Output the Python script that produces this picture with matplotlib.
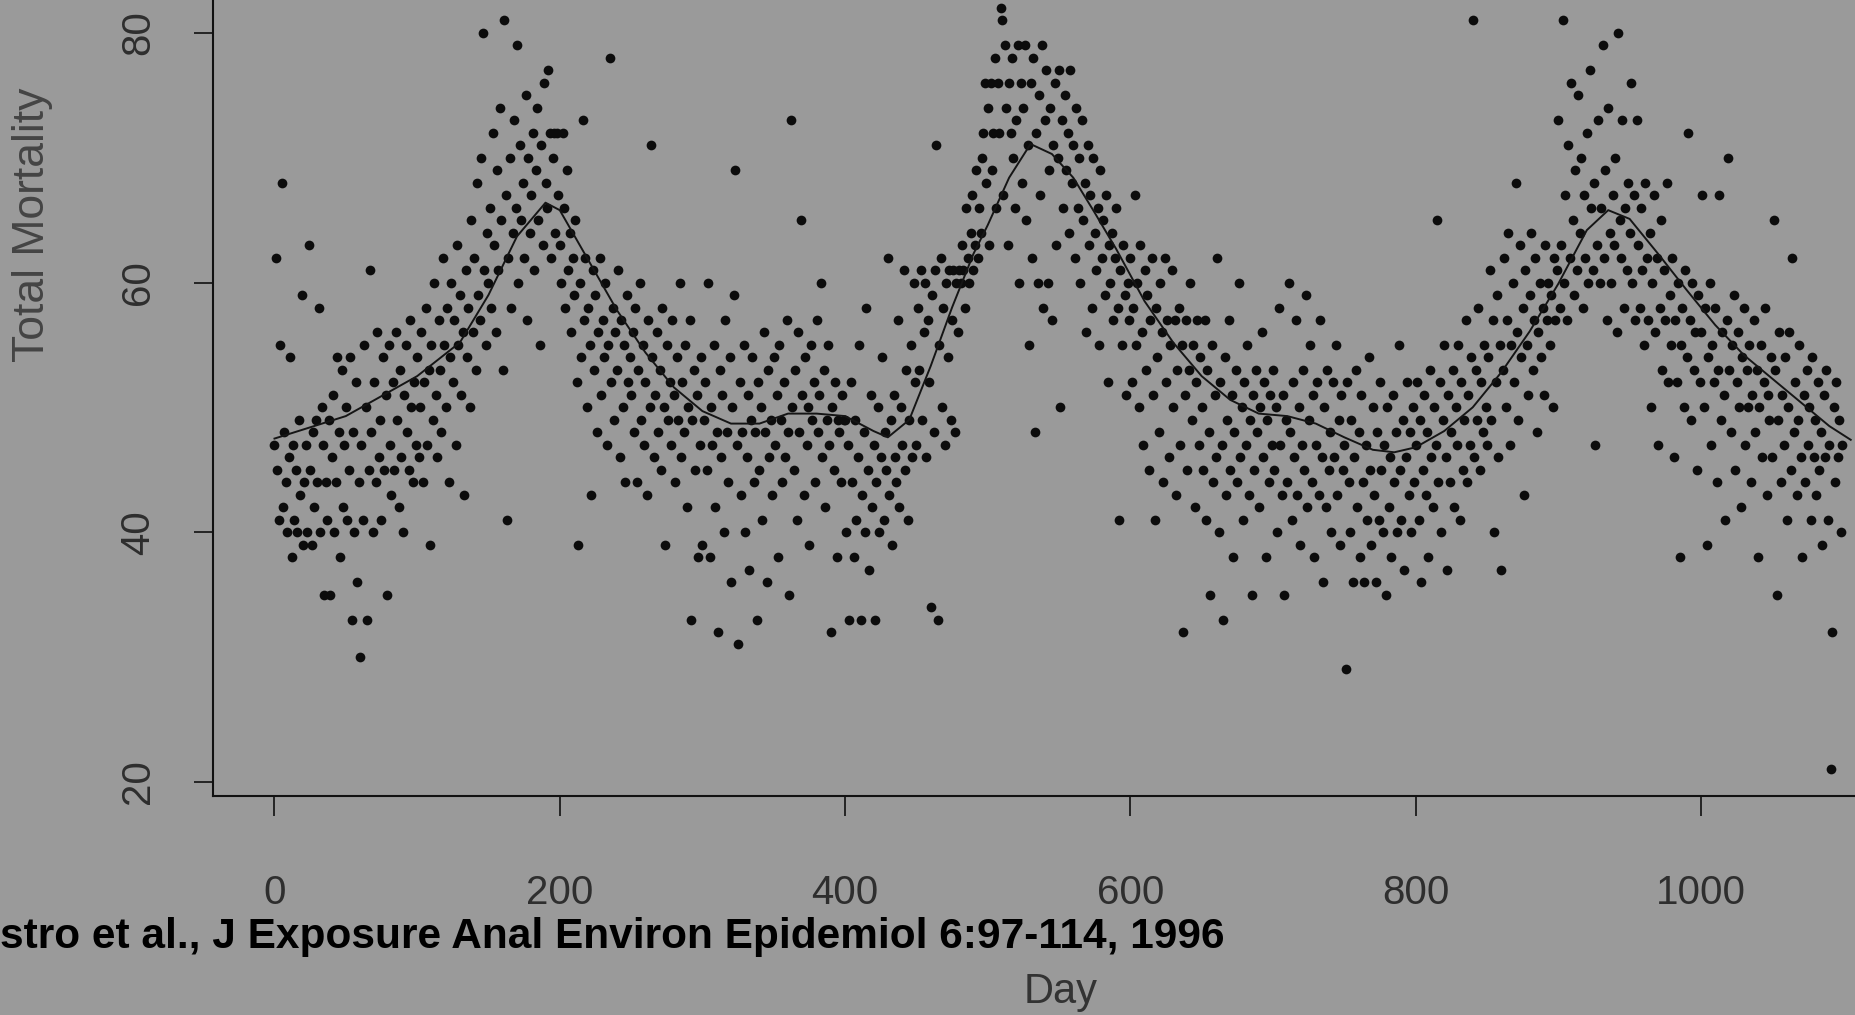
import matplotlib
matplotlib.use("Agg")
import matplotlib.pyplot as plt
import numpy as np

# daily total mortality (day 0 .. 1099), 50 days per row
mortality = [
    47, 62, 45, 41, 55, 68, 42, 48, 44, 40, 46, 54, 38, 47, 41, 45, 40, 49, 43, 59, 39, 44, 47, 40, 63, 45, 39, 48, 42, 49, 44, 58, 40, 50, 47, 35, 44, 41, 49, 35, 46, 51, 40, 44, 54, 48, 38, 53, 42, 47,
    50, 41, 45, 54, 33, 48, 40, 52, 36, 44, 30, 47, 41, 55, 50, 33, 45, 61, 48, 40, 52, 44, 56, 46, 49, 41, 54, 45, 51, 35, 55, 47, 43, 52, 45, 56, 49, 42, 53, 46, 40, 51, 55, 48, 45, 57, 50, 44, 52, 47,
    54, 46, 50, 56, 44, 52, 58, 47, 53, 39, 55, 49, 60, 51, 46, 57, 53, 48, 62, 55, 50, 58, 44, 54, 60, 52, 57, 47, 63, 55, 59, 51, 56, 43, 61, 54, 58, 50, 65, 56, 62, 53, 68, 59, 57, 70, 80, 61, 55, 64,
    60, 66, 58, 72, 63, 56, 69, 61, 74, 65, 53, 81, 67, 41, 62, 70, 58, 64, 73, 66, 79, 60, 71, 65, 68, 62, 75, 57, 70, 64, 67, 72, 61, 69, 74, 65, 55, 71, 63, 76, 68, 66, 77, 72, 62, 70, 72, 64, 72, 67,
    63, 60, 72, 66, 58, 69, 61, 64, 56, 62, 59, 65, 52, 39, 60, 54, 73, 57, 62, 50, 58, 55, 43, 61, 53, 59, 48, 56, 62, 51, 57, 54, 60, 47, 55, 78, 52, 58, 49, 56, 53, 61, 46, 57, 50, 55, 44, 59, 52, 54,
    51, 56, 48, 58, 44, 53, 60, 49, 55, 47, 52, 43, 57, 50, 71, 54, 46, 51, 56, 48, 53, 45, 58, 50, 39, 55, 49, 52, 47, 57, 51, 44, 54, 49, 60, 46, 52, 48, 55, 42, 50, 57, 33, 49, 53, 45, 51, 38, 47, 54,
    39, 49, 52, 45, 60, 38, 50, 47, 55, 42, 48, 32, 53, 46, 51, 40, 57, 48, 44, 54, 36, 50, 59, 69, 47, 31, 52, 43, 48, 55, 40, 46, 51, 37, 49, 54, 44, 48, 33, 52, 45, 50, 41, 56, 48, 36, 53, 46, 49, 43,
    54, 47, 51, 38, 55, 49, 44, 52, 46, 57, 48, 35, 73, 50, 45, 53, 41, 56, 48, 65, 51, 43, 54, 47, 50, 39, 55, 49, 52, 44, 57, 48, 51, 60, 46, 53, 42, 49, 55, 47, 32, 50, 45, 52, 38, 49, 48, 44, 51, 49,
    49, 40, 47, 33, 52, 44, 38, 49, 41, 46, 55, 33, 43, 48, 40, 58, 45, 37, 51, 42, 47, 33, 44, 50, 40, 46, 54, 41, 48, 45, 62, 43, 49, 39, 51, 46, 44, 57, 42, 50, 47, 61, 45, 53, 41, 49, 55, 46, 60, 52,
    47, 58, 53, 61, 49, 56, 60, 46, 57, 52, 34, 59, 48, 61, 71, 33, 55, 62, 50, 58, 47, 60, 54, 61, 49, 57, 61, 48, 60, 56, 61, 60, 63, 61, 58, 66, 62, 60, 64, 67, 61, 63, 69, 62, 66, 64, 70, 72, 76, 68,
    74, 63, 76, 69, 72, 78, 66, 76, 72, 82, 81, 67, 79, 74, 63, 76, 72, 78, 70, 66, 73, 79, 60, 76, 68, 74, 79, 65, 71, 55, 76, 62, 78, 48, 72, 60, 75, 67, 79, 58, 73, 77, 60, 69, 74, 57, 71, 76, 63, 70,
    77, 50, 73, 66, 75, 69, 72, 64, 77, 68, 71, 62, 74, 66, 70, 60, 73, 65, 68, 56, 71, 63, 67, 58, 70, 64, 61, 66, 55, 69, 62, 65, 59, 67, 52, 63, 60, 64, 57, 62, 66, 58, 41, 61, 55, 63, 59, 51, 60, 57,
    62, 52, 58, 67, 55, 60, 50, 63, 56, 47, 61, 53, 59, 45, 57, 62, 51, 41, 58, 54, 48, 60, 56, 44, 62, 52, 57, 46, 55, 61, 50, 57, 43, 53, 58, 47, 55, 32, 51, 57, 45, 53, 60, 49, 55, 42, 52, 57, 47, 54,
    50, 45, 57, 41, 53, 48, 35, 55, 44, 51, 46, 62, 40, 52, 47, 33, 54, 43, 49, 57, 45, 51, 38, 48, 53, 44, 60, 46, 50, 41, 52, 47, 55, 43, 49, 35, 51, 45, 53, 48, 42, 50, 56, 46, 52, 38, 49, 44, 51, 47,
    53, 45, 50, 40, 58, 47, 43, 51, 35, 49, 44, 60, 48, 41, 52, 46, 57, 43, 50, 39, 47, 53, 45, 59, 42, 49, 55, 44, 51, 38, 47, 52, 43, 57, 46, 36, 50, 42, 53, 45, 48, 40, 52, 46, 55, 43, 49, 39, 51, 45,
    47, 29, 52, 44, 40, 49, 36, 46, 53, 42, 48, 38, 51, 44, 36, 47, 41, 54, 45, 39, 50, 43, 36, 48, 41, 52, 45, 40, 47, 35, 50, 42, 46, 38, 51, 44, 48, 40, 55, 45, 41, 49, 37, 46, 52, 43, 48, 40, 50, 44,
    47, 52, 41, 49, 36, 45, 51, 43, 48, 38, 53, 46, 42, 50, 47, 65, 44, 52, 40, 49, 55, 46, 37, 51, 44, 48, 53, 42, 50, 47, 55, 41, 52, 45, 49, 57, 44, 51, 47, 54, 81, 46, 53, 49, 58, 45, 52, 48, 55, 50,
    47, 54, 61, 49, 57, 40, 52, 59, 46, 55, 37, 53, 62, 50, 57, 64, 47, 55, 60, 52, 68, 56, 49, 63, 54, 58, 43, 61, 55, 51, 59, 64, 53, 57, 62, 48, 56, 60, 54, 58, 51, 63, 57, 60, 55, 59, 50, 62, 57, 61,
    73, 58, 63, 81, 60, 67, 57, 71, 62, 76, 65, 59, 69, 61, 75, 64, 70, 58, 67, 62, 72, 60, 77, 66, 61, 68, 47, 63, 73, 60, 66, 79, 62, 69, 57, 74, 64, 60, 67, 63, 70, 56, 80, 65, 62, 73, 58, 66, 61, 68,
    64, 76, 60, 67, 57, 73, 63, 58, 66, 61, 55, 68, 62, 57, 64, 50, 60, 67, 56, 62, 47, 58, 65, 53, 61, 57, 68, 52, 59, 55, 62, 46, 57, 52, 60, 38, 55, 58, 50, 61, 54, 72, 57, 49, 60, 53, 56, 45, 59, 52,
    56, 67, 50, 58, 39, 54, 60, 47, 55, 52, 58, 44, 53, 67, 49, 56, 51, 41, 57, 70, 53, 48, 55, 59, 45, 52, 56, 50, 42, 54, 58, 47, 53, 50, 55, 44, 51, 57, 48, 53, 38, 50, 55, 46, 52, 58, 43, 51, 49, 54,
    46, 65, 53, 35, 49, 56, 44, 51, 47, 54, 41, 50, 56, 45, 62, 48, 52, 43, 49, 55, 46, 38, 51, 44, 53, 47, 50, 41, 54, 46, 49, 43, 52, 45, 48, 39, 51, 46, 53, 41, 47, 21, 32, 50, 44, 52, 46, 49, 40, 47,
]
days = np.arange(len(mortality))

# smooth trend curve
trend_day = [0, 50, 100, 130, 150, 170, 190, 200, 220, 240, 260, 280, 300, 320, 340,
             360, 380, 400, 420, 430, 445, 460, 475, 490, 500, 515, 530, 545, 560,
             575, 590, 610, 630, 650, 670, 690, 710, 730, 750, 770, 785, 800, 820,
             840, 860, 880, 900, 920, 935, 950, 970, 990, 1010, 1030, 1050, 1070,
             1090, 1105]
trend_val = [47.5, 49.3, 52.5, 55.2, 59.0, 63.7, 66.4, 65.8, 61.8, 57.8, 54.4, 51.6,
             49.7, 48.7, 48.7, 49.5, 49.5, 49.3, 48.1, 47.6, 49.0, 53.3, 58.0, 62.3,
             64.6, 68.4, 71.1, 70.3, 68.4, 65.6, 62.7, 58.5, 55.2, 52.5, 50.6, 49.5,
             49.3, 48.7, 47.6, 46.6, 46.4, 46.8, 48.1, 50.0, 52.8, 56.1, 59.9, 64.2,
             65.8, 65.1, 62.3, 59.4, 56.6, 54.2, 52.3, 50.4, 48.5, 47.4]

x_ticks = [0, 200, 400, 600, 800, 1000]
y_ticks = [20, 40, 60, 80]

bg = "#9a9a9a"
W, H = 1855, 1015

fig = plt.figure(figsize=(W / 100, H / 100), dpi=100, facecolor=bg)
ax = fig.add_axes([213 / W, 1 - 796 / H, (W - 213) / W, 796 / H])
ax.set_facecolor(bg)

ax.plot(days, mortality, "o", ms=7, color="#0c0c0c", mec="none")
ax.plot(trend_day, trend_val, color="#151515", lw=1.4)

ax.set_xlim(-43.1, 1108)
ax.set_ylim(18.86, 82.64)

for s in ["top", "right"]:
    ax.spines[s].set_visible(False)
for s in ["left", "bottom"]:
    ax.spines[s].set_color("#111111")
    ax.spines[s].set_linewidth(1.5)

ax.set_xticks(x_ticks)
ax.set_yticks(y_ticks)
ax.tick_params(axis="x", length=14.4, width=1.2, color="#111111", pad=42,
               labelsize=29, labelcolor="#2e2e2e")
ax.tick_params(axis="y", length=14, width=1.2, color="#111111", pad=26,
               labelsize=29, labelcolor="#2e2e2e")
for lab in ax.get_xticklabels() + ax.get_yticklabels():
    lab.set_family("Liberation Sans")
for lab in ax.get_yticklabels():
    lab.set_rotation(90)
    lab.set_va("center")

fig.text(33 / W, 1 - 225 / H, "Total Mortality", rotation=90, ha="center",
         va="center", fontsize=32, color="#444444", family="Liberation Sans")
fig.text(1061 / W, 3 / H, "Day", ha="center", va="bottom", fontsize=30,
         color="#333333", family="Liberation Sans")
fig.text(0, 1 - 937 / H, "stro et al., J Exposure Anal Environ Epidemiol 6:97-114, 1996",
         ha="left", va="center", fontsize=30.5, fontweight="bold", color="black",
         family="Liberation Sans")

fig.savefig("out.png", dpi=100, facecolor=bg)
